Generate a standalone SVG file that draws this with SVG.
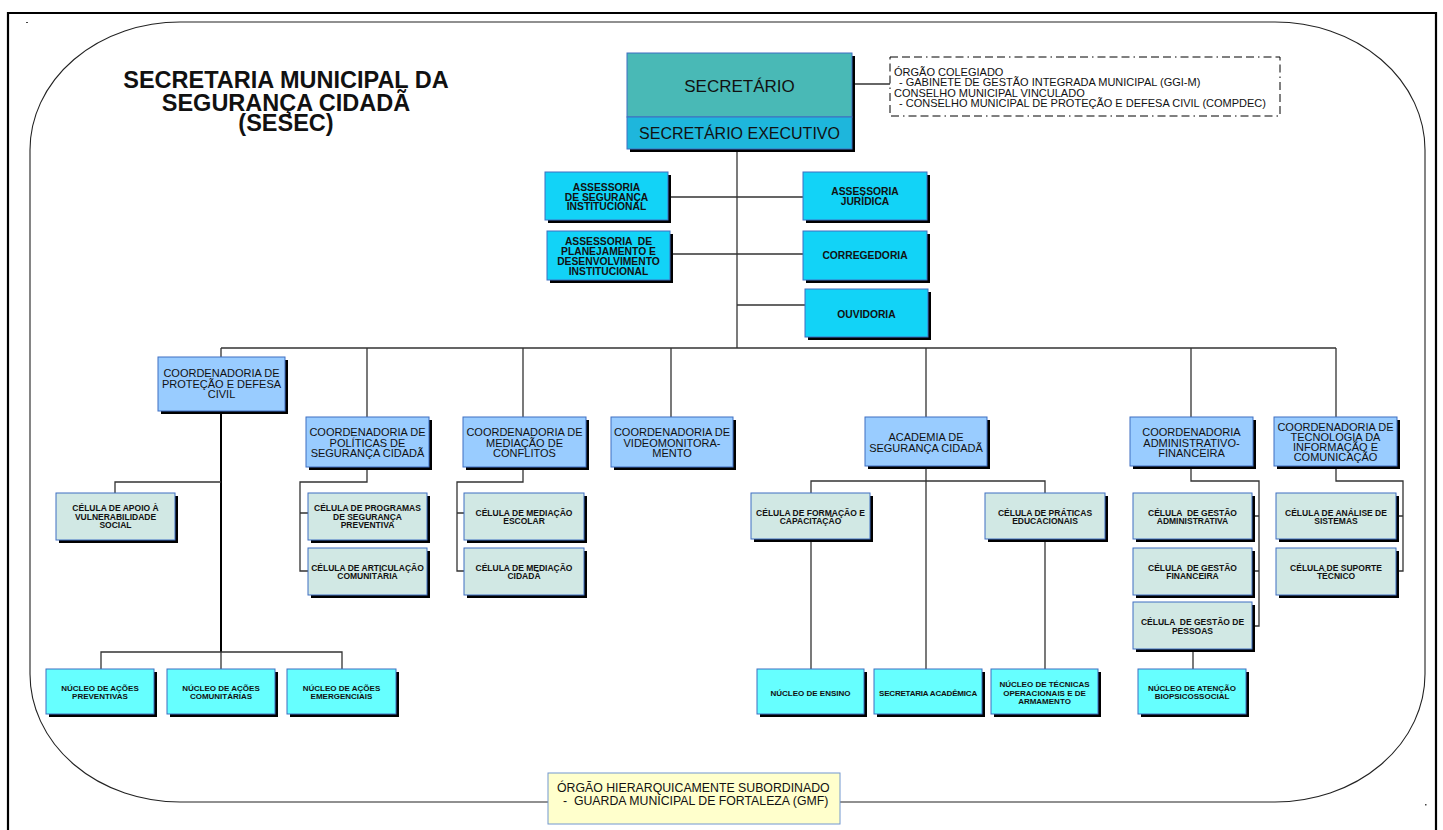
<svg xmlns="http://www.w3.org/2000/svg" width="1443" height="830" viewBox="0 0 1443 830">
<style>
text{font-family:"Liberation Sans",Arial,sans-serif;fill:#111;text-anchor:middle}
.sh{fill:#000}
.bx{stroke:#3f6fc2;stroke-width:1}
.coord{fill:#99ccff}
.cel{fill:#d1e8e4}
.nuc{fill:#66ffff}
.ass{fill:#12d3f7}
.tc{font-size:11px}
.ta{font-size:10.3px;font-weight:bold}
.tl{font-size:8.5px;font-weight:bold}
.tn{font-size:8px;font-weight:bold}
.ln{fill:none;stroke:#333;stroke-width:1.3}
.lk{fill:none;stroke:#000;stroke-width:2}
.st{text-anchor:start}
.ti{font-size:23.5px;font-weight:bold}
.td{font-size:11px}
</style>
<rect x="0" y="0" width="1443" height="830" fill="#fff"/>
<g id="frame">
<path d="M8,830 V13 H1436 V830" fill="none" stroke="#000" stroke-width="2.2"/>
<rect x="30" y="22" width="1395" height="780" rx="150" ry="128" fill="none" stroke="#222" stroke-width="1.1"/>
<rect x="26" y="22" width="2" height="1" fill="#444"/>
<rect x="1425" y="804" width="1.5" height="1.5" fill="#444"/>
</g>
<g id="title">
<text class="ti" x="286" y="88">SECRETARIA MUNICIPAL DA</text>
<text class="ti" x="286" y="110.5">SEGURANÇA CIDADÃ</text>
<text class="ti" x="286" y="130.5">(SESEC)</text>
</g>
<g id="connectors">
<path class="ln" d="M852,84 H890"/>
<path class="ln" d="M737,149 V348"/>
<path class="ln" d="M668,197 H803 M670,254 H803 M737,305 H805"/>
<path class="ln" d="M221,348 H1336 M221,348 V357 M367,348 V417 M523,348 V417 M671,348 V417 M926,348 V417 M1191,348 V417 M1336,348 V417"/>
<path class="lk" d="M221,411 V652"/>
<path class="ln" d="M221,482 H115 V493"/>
<path class="ln" d="M101,669 V652 H342 V669 M221,652 V669"/>
<path class="ln" d="M367,467 V482 H300 V571 H308 M300,513 H308"/>
<path class="ln" d="M523,467 V482 H457 V571 H464 M457,513 H464"/>
<path class="ln" d="M926,466 V669 M811,493 V481 H1045 V493 M811,539 V669 M1045,539 V669"/>
<path class="ln" d="M1191,466 V481 H1259 V626 H1252 M1252,516 H1259 M1252,571 H1259 M1193,649 V669"/>
<path class="ln" d="M1336,466 V481 H1403 V571 H1396 M1396,516 H1403"/>
</g>
<g id="secretario">
<rect class="sh" x="630" y="56" width="225" height="96"/>
<rect class="bx" x="627" y="53" width="225" height="64" fill="#49b9b6"/>
<text x="739.5" y="92" font-size="17">SECRETÁRIO</text>
</g>
<g id="secretario-executivo">
<rect class="bx" x="627" y="117" width="225" height="32" fill="#1eb6dc"/>
<text x="739.5" y="139" font-size="16">SECRETÁRIO EXECUTIVO</text>
</g>
<g id="orgao-colegiado">
<rect x="890" y="57" width="390" height="59" fill="#fff" stroke="#000" stroke-width="1" stroke-dasharray="8 4 8 4 8 4 1.5 4"/>
<text class="st td" x="894" y="75.5">ÓRGÃO COLEGIADO</text>
<text class="st td" x="899" y="86">- GABINETE DE GESTÃO INTEGRADA MUNICIPAL (GGI-M)</text>
<text class="st td" x="894" y="96.5">CONSELHO MUNICIPAL VINCULADO</text>
<text class="st td" x="899" y="107">- CONSELHO MUNICIPAL DE PROTEÇÃO E DEFESA CIVIL (COMPDEC)</text>
</g>
<g id="assessoria-seguranca">
<rect class="sh" x="548" y="175" width="123" height="48"/>
<rect class="bx ass" x="545" y="172" width="123" height="48"/>
<text class="ta" x="606.5" y="191">ASSESSORIA</text>
<text class="ta" x="606.5" y="200.5">DE SEGURANÇA</text>
<text class="ta" x="606.5" y="210">INSTITUCIONAL</text>
</g>
<g id="assessoria-juridica">
<rect class="sh" x="806" y="175" width="124" height="48"/>
<rect class="bx ass" x="803" y="172" width="124" height="48"/>
<text class="ta" x="865" y="195">ASSESSORIA</text>
<text class="ta" x="865" y="205">JURÍDICA</text>
</g>
<g id="assessoria-planejamento">
<rect class="sh" x="550" y="234" width="123" height="49"/>
<rect class="bx ass" x="547" y="231" width="123" height="49"/>
<text class="ta" x="608.5" y="245" xml:space="preserve">ASSESSORIA  DE</text>
<text class="ta" x="608.5" y="255">PLANEJAMENTO E</text>
<text class="ta" x="608.5" y="265">DESENVOLVIMENTO</text>
<text class="ta" x="608.5" y="275">INSTITUCIONAL</text>
</g>
<g id="corregedoria">
<rect class="sh" x="806" y="234" width="124" height="49"/>
<rect class="bx ass" x="803" y="231" width="124" height="49"/>
<text class="ta" x="865" y="259">CORREGEDORIA</text>
</g>
<g id="ouvidoria">
<rect class="sh" x="808" y="292" width="123" height="48"/>
<rect class="bx ass" x="805" y="289" width="123" height="48"/>
<text class="ta" x="866.5" y="318">OUVIDORIA</text>
</g>
<g id="coord-protecao">
<rect class="sh" x="161" y="360" width="127" height="54"/>
<rect class="bx coord" x="158" y="357" width="127" height="54"/>
<text class="tc" x="221.5" y="377">COORDENADORIA DE</text>
<text class="tc" x="221.5" y="387.5">PROTEÇÃO E DEFESA</text>
<text class="tc" x="221.5" y="398">CIVIL</text>
</g>
<g id="coord-politicas">
<rect class="sh" x="309" y="420" width="123" height="50"/>
<rect class="bx coord" x="306" y="417" width="123" height="50"/>
<text class="tc" x="367.5" y="436">COORDENADORIA DE</text>
<text class="tc" x="367.5" y="446.5">POLÍTICAS DE</text>
<text class="tc" x="367.5" y="457">SEGURANÇA CIDADÃ</text>
</g>
<g id="coord-mediacao">
<rect class="sh" x="466" y="420" width="123" height="50"/>
<rect class="bx coord" x="463" y="417" width="123" height="50"/>
<text class="tc" x="524.5" y="436">COORDENADORIA DE</text>
<text class="tc" x="524.5" y="446.5">MEDIAÇÃO DE</text>
<text class="tc" x="524.5" y="457">CONFLITOS</text>
</g>
<g id="coord-video">
<rect class="sh" x="614" y="420" width="122" height="50"/>
<rect class="bx coord" x="611" y="417" width="122" height="50"/>
<text class="tc" x="672" y="436">COORDENADORIA DE</text>
<text class="tc" x="672" y="446.5">VIDEOMONITORA-</text>
<text class="tc" x="672" y="457">MENTO</text>
</g>
<g id="academia">
<rect class="sh" x="868" y="420" width="122" height="49"/>
<rect class="bx coord" x="865" y="417" width="122" height="49"/>
<text class="tc" x="926" y="441">ACADEMIA DE</text>
<text class="tc" x="926" y="451.5">SEGURANÇA CIDADÃ</text>
</g>
<g id="coord-admin">
<rect class="sh" x="1133" y="420" width="123" height="49"/>
<rect class="bx coord" x="1130" y="417" width="123" height="49"/>
<text class="tc" x="1191.5" y="436">COORDENADORIA</text>
<text class="tc" x="1191.5" y="446.5">ADMINISTRATIVO-</text>
<text class="tc" x="1191.5" y="457">FINANCEIRA</text>
</g>
<g id="coord-ti">
<rect class="sh" x="1277" y="420" width="123" height="49"/>
<rect class="bx coord" x="1274" y="417" width="123" height="49"/>
<text class="tc" x="1335.5" y="431">COORDENADORIA DE</text>
<text class="tc" x="1335.5" y="441">TECNOLOGIA DA</text>
<text class="tc" x="1335.5" y="451">INFORMAÇÃO E</text>
<text class="tc" x="1335.5" y="461">COMUNICAÇÃO</text>
</g>
<g id="cel-apoio">
<rect class="sh" x="59" y="496" width="119" height="47"/>
<rect class="bx cel" x="56" y="493" width="119" height="47"/>
<text class="tl" x="115.5" y="511">CÉLULA DE APOIO À</text>
<text class="tl" x="115.5" y="519.5">VULNERABILIDADE</text>
<text class="tl" x="115.5" y="528">SOCIAL</text>
</g>
<g id="cel-programas">
<rect class="sh" x="311" y="496" width="119" height="47"/>
<rect class="bx cel" x="308" y="493" width="119" height="47"/>
<text class="tl" x="367.5" y="511">CÉLULA DE PROGRAMAS</text>
<text class="tl" x="367.5" y="519.5">DE SEGURANÇA</text>
<text class="tl" x="367.5" y="528">PREVENTIVA</text>
</g>
<g id="cel-articulacao">
<rect class="sh" x="311" y="551" width="119" height="47"/>
<rect class="bx cel" x="308" y="548" width="119" height="47"/>
<text class="tl" x="367.5" y="571">CÉLULA DE ARTICULAÇÃO</text>
<text class="tl" x="367.5" y="579">COMUNITÁRIA</text>
</g>
<g id="cel-med-escolar">
<rect class="sh" x="467" y="496" width="120" height="47"/>
<rect class="bx cel" x="464" y="493" width="120" height="47"/>
<text class="tl" x="524" y="516">CÉLULA DE MEDIAÇÃO</text>
<text class="tl" x="524" y="524">ESCOLAR</text>
</g>
<g id="cel-med-cidada">
<rect class="sh" x="467" y="551" width="120" height="47"/>
<rect class="bx cel" x="464" y="548" width="120" height="47"/>
<text class="tl" x="524" y="571">CÉLULA DE MEDIAÇÃO</text>
<text class="tl" x="524" y="579">CIDADÃ</text>
</g>
<g id="cel-formacao">
<rect class="sh" x="754" y="496" width="119" height="46"/>
<rect class="bx cel" x="751" y="493" width="119" height="46"/>
<text class="tl" x="810.5" y="516">CÉLULA DE FORMAÇÃO E</text>
<text class="tl" x="810.5" y="524">CAPACITAÇÃO</text>
</g>
<g id="cel-praticas">
<rect class="sh" x="988" y="496" width="120" height="46"/>
<rect class="bx cel" x="985" y="493" width="120" height="46"/>
<text class="tl" x="1045" y="516">CÉLULA DE PRÁTICAS</text>
<text class="tl" x="1045" y="524">EDUCACIONAIS</text>
</g>
<g id="cel-gestao-adm">
<rect class="sh" x="1136" y="496" width="119" height="46"/>
<rect class="bx cel" x="1133" y="493" width="119" height="46"/>
<text class="tl" x="1192.5" y="516" xml:space="preserve">CÉLULA  DE GESTÃO</text>
<text class="tl" x="1192.5" y="524">ADMINISTRATIVA</text>
</g>
<g id="cel-gestao-fin">
<rect class="sh" x="1136" y="551" width="119" height="47"/>
<rect class="bx cel" x="1133" y="548" width="119" height="47"/>
<text class="tl" x="1192.5" y="570.5" xml:space="preserve">CÉLULA  DE GESTÃO</text>
<text class="tl" x="1192.5" y="579">FINANCEIRA</text>
</g>
<g id="cel-gestao-pes">
<rect class="sh" x="1136" y="605" width="119" height="47"/>
<rect class="bx cel" x="1133" y="602" width="119" height="47"/>
<text class="tl" x="1192.5" y="625" xml:space="preserve">CÉLULA  DE GESTÃO DE</text>
<text class="tl" x="1192.5" y="633.5">PESSOAS</text>
</g>
<g id="cel-analise">
<rect class="sh" x="1279" y="496" width="120" height="46"/>
<rect class="bx cel" x="1276" y="493" width="120" height="46"/>
<text class="tl" x="1336" y="516">CÉLULA DE ANÁLISE DE</text>
<text class="tl" x="1336" y="524">SISTEMAS</text>
</g>
<g id="cel-suporte">
<rect class="sh" x="1279" y="551" width="120" height="47"/>
<rect class="bx cel" x="1276" y="548" width="120" height="47"/>
<text class="tl" x="1336" y="570.5">CÉLULA DE SUPORTE</text>
<text class="tl" x="1336" y="579">TÉCNICO</text>
</g>
<g id="nuc-preventivas">
<rect class="sh" x="49" y="672" width="108" height="45"/>
<rect class="bx nuc" x="46" y="669" width="108" height="45"/>
<text class="tn" x="100" y="691">NÚCLEO DE AÇÕES</text>
<text class="tn" x="100" y="699">PREVENTIVAS</text>
</g>
<g id="nuc-comunitarias">
<rect class="sh" x="170" y="672" width="108" height="45"/>
<rect class="bx nuc" x="167" y="669" width="108" height="45"/>
<text class="tn" x="221" y="691">NÚCLEO DE AÇÕES</text>
<text class="tn" x="221" y="699">COMUNITÁRIAS</text>
</g>
<g id="nuc-emergenciais">
<rect class="sh" x="290" y="672" width="109" height="45"/>
<rect class="bx nuc" x="287" y="669" width="109" height="45"/>
<text class="tn" x="341.5" y="691">NÚCLEO DE AÇÕES</text>
<text class="tn" x="341.5" y="699">EMERGENCIAIS</text>
</g>
<g id="nuc-ensino">
<rect class="sh" x="760" y="672" width="107" height="45"/>
<rect class="bx nuc" x="757" y="669" width="107" height="45"/>
<text class="tn" x="810.5" y="696">NÚCLEO DE ENSINO</text>
</g>
<g id="secretaria-academica">
<rect class="sh" x="877" y="672" width="108" height="45"/>
<rect class="bx nuc" x="874" y="669" width="108" height="45"/>
<text class="tn" x="928" y="696" letter-spacing="-0.2">SECRETARIA ACADÊMICA</text>
</g>
<g id="nuc-tecnicas">
<rect class="sh" x="994" y="672" width="107" height="45"/>
<rect class="bx nuc" x="991" y="669" width="107" height="45"/>
<text class="tn" x="1044.5" y="687">NÚCLEO DE TÉCNICAS</text>
<text class="tn" x="1044.5" y="695.5">OPERACIONAIS E DE</text>
<text class="tn" x="1044.5" y="704">ARMAMENTO</text>
</g>
<g id="nuc-atencao">
<rect class="sh" x="1141" y="672" width="108" height="45"/>
<rect class="bx nuc" x="1138" y="669" width="108" height="45"/>
<text class="tn" x="1192" y="691">NÚCLEO DE ATENÇÃO</text>
<text class="tn" x="1192" y="699">BIOPSICOSSOCIAL</text>
</g>
<g id="gmf">
<rect x="548" y="773" width="292" height="51" fill="#ffffcc" stroke="#7398d0" stroke-width="1"/>
<text class="st" x="557" y="791.5" font-size="12.3">ÓRGÃO HIERARQUICAMENTE SUBORDINADO</text>
<text class="st" x="563" y="804.5" font-size="12.3" xml:space="preserve">-  GUARDA MUNICIPAL DE FORTALEZA (GMF)</text>
</g>
</svg>
